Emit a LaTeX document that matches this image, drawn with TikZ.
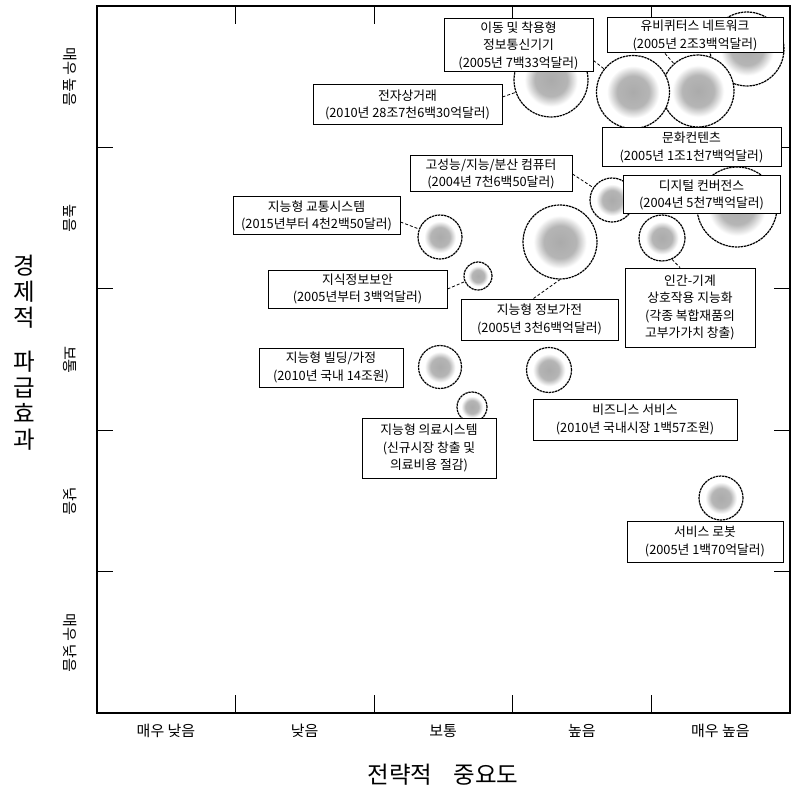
\documentclass[tikz,border=0pt]{standalone}
\usepackage{fontspec}
\setmainfont{Noto Sans CJK KR}
\usepackage{tikz}
\pgfdeclareradialshading{blob}{\pgfpoint{0bp}{0bp}}{%
  color(0bp)=(black!33); color(11bp)=(black!29); color(18bp)=(white); color(50bp)=(white)}

\begin{document}
\begin{tikzpicture}[x=1pt,y=-1pt,
          lbl/.style={draw,line width=1pt,fill=white,align=center,inner sep=1pt,
                      font=\fontsize{12.8}{17.5}\selectfont},
          bub/.style={circle,draw,line width=1.2pt,dash pattern=on 2.4pt off 0.7pt,
                      shading=blob,inner sep=0pt},
          link/.style={densely dashed,line width=0.8pt},
          axtick/.style={line width=0.8pt},
          axlab/.style={font=\fontsize{15}{16}\selectfont},
          axtitle/.style={font=\fontsize{23.5}{26}\selectfont}]
        \useasboundingbox (0,0) rectangle (796,789);
        % frame and ticks
        \draw[line width=1.1pt] (97,6) rectangle (790,713);
        \foreach \i in {1,...,4} {
          \draw[axtick] (97+138.6*\i,713) -- ++(0,-18);
          \draw[axtick] (97+138.6*\i,6) -- ++(0,18);
          \draw[axtick] (97,6+141.4*\i) -- ++(16,0);
          \draw[axtick] (790,6+141.4*\i) -- ++(-16,0);
        }
        \foreach \t [count=\k from 0] in {매우 낮음,낮음,보통,높음,매우 높음}
          \node[axlab] (xl\k) at (166+138.6*\k,731) {\t};
        \foreach \t [count=\k from 0] in {매우 높음,높음,보통,낮음,매우 낮음}
          \node[axlab,rotate=-90] (yl\k) at (70,77+141.4*\k) {\t};
        \node[axtitle] (xtitle) at (443,775) {전략적\hspace{0.9em}중요도};
        \node[axtitle,align=center,anchor=north] (ytitle) at (24,252)
          {경\\제\\적\\[18pt]파\\급\\효\\과};
        % bubbles
        \node[bub,minimum size=74] (bculture) at (747,49) {};
        \node[bub,minimum size=72] (bubiq) at (698,91) {};
        \node[bub,minimum size=73] (bmobile) at (633,92) {};
        \node[bub,minimum size=74] (becom) at (551,80) {};
        \node[bub,minimum size=80] (bdigital) at (737,207) {};
        \node[bub,minimum size=44] (bhpc) at (612,200) {};
        \node[bub,minimum size=46] (bhmi) at (662,238) {};
        \node[bub,minimum size=74] (bappliance) at (560,242) {};
        \node[bub,minimum size=44] (bits) at (440,237) {};
        \node[bub,minimum size=28] (bsecure) at (478,276) {};
        \node[bub,minimum size=43] (bbuilding) at (440,367) {};
        \node[bub,minimum size=30] (bmedical) at (472,407) {};
        \node[bub,minimum size=45] (bbusiness) at (549,370) {};
        \node[bub,minimum size=44] (brobot) at (721,498) {};
        % labels
        \node[lbl,minimum width=149,minimum height=53] (mobile) at (518.5,45.5)
          {이동 및 착용형\\정보통신기기\\(2005년 7백33억달러)};
        \node[lbl,minimum width=176,minimum height=35] (ubiq) at (695,35.5)
          {유비퀴터스 네트워크\\(2005년 2조3백억달러)};
        \node[lbl,minimum width=189,minimum height=40] (ecom) at (407.5,105)
          {전자상거래\\(2010년 28조7천6백30억달러)};
        \node[lbl,minimum width=179,minimum height=39] (culture) at (691.5,147.5)
          {문화컨텐츠\\(2005년 1조1천7백억달러)};
        \node[lbl,minimum width=162,minimum height=36] (hpc) at (491,174)
          {고성능/지능/분산 컴퓨터\\(2004년 7천6백50달러)};
        \node[lbl,minimum width=157,minimum height=38] (digital) at (701.5,195)
          {디지털 컨버전스\\(2004년 5천7백억달러)};
        \node[lbl,minimum width=167,minimum height=38] (its) at (316.5,216)
          {지능형 교통시스템\\(2015년부터 4천2백50달러)};
        \node[lbl,minimum width=179,minimum height=38] (secure) at (357.5,289)
          {지식정보보안\\(2005년부터 3백억달러)};
        \node[lbl,minimum width=157,minimum height=41] (appliance) at (539.5,319.5)
          {지능형 정보가전\\(2005년 3천6백억달러)};
        \node[lbl,minimum width=130,minimum height=79] (hmi) at (690,307.5)
          {인간-기계\\상호작용 지능화\\(각종 복합재품의\\고부가가치 창출)};
        \node[lbl,minimum width=144,minimum height=39] (building) at (331,367.5)
          {지능형 빌딩/가정\\(2010년 국내 14조원)};
        \node[lbl,minimum width=134,minimum height=60] (medical) at (429,448)
          {지능형 의료시스템\\(신규시장 창출 및\\의료비용 절감)};
        \node[lbl,minimum width=204,minimum height=41] (business) at (635,419.5)
          {비즈니스 서비스\\(2010년 국내시장 1백57조원)};
        \node[lbl,minimum width=156,minimum height=41] (robot) at (705,541.5)
          {서비스 로봇\\(2005년 1백70억달러)};
        % connectors
        \draw[link] ([yshift=-15]mobile.east) -- (bmobile);
        \draw[link] ([xshift=-30]ubiq.south) -- (bubiq);
        \draw[link] ([yshift=8]ecom.east) -- (becom);
        \draw[link] (hpc.east) -- (bhpc);
        \draw[link] ([yshift=-6]its.east) -- (bits);
        \draw[link] (secure.east) -- (bsecure);
        \draw[link] ([xshift=-6]appliance.north) -- (bappliance.south);
        \draw[link] (bhmi.-65) -- ([xshift=-10]hmi.north);
      \end{tikzpicture}
\end{document}
